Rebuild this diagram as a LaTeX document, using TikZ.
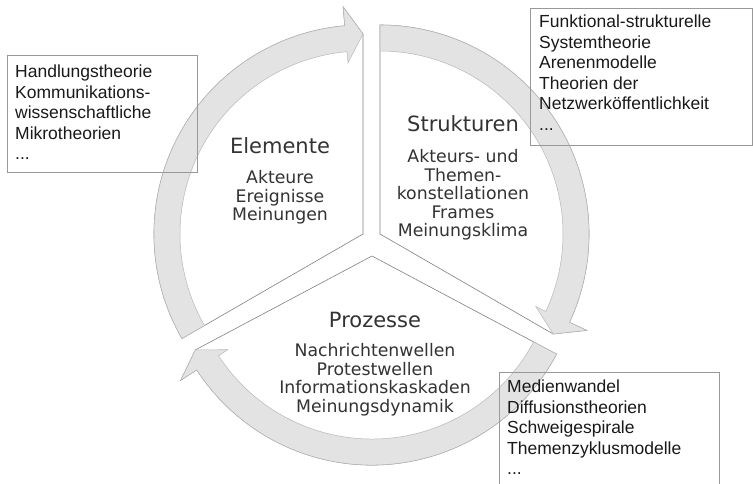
\documentclass[tikz,border=0pt]{standalone}
\usepackage{fontspec}
\usepackage{tikz}
\usetikzlibrary{positioning}
\newfontfamily\boxfont{Liberation Sans}
\newfontfamily\segfont{DejaVu Sans}
\tikzstyle{theorybox} = [rectangle, draw=black!40, line width=0.8pt, inner sep=0pt]
\tikzstyle{theorytext} = [align=left, inner sep=0pt, text=black!90, font=\boxfont\fontsize{17.5}{20.5}\selectfont]
\tikzstyle{segtitle} = [inner sep=0pt, text=black!80, font=\segfont\fontsize{21}{24}\selectfont]
\tikzstyle{segtext} = [align=center, inner sep=0pt, text=black!80, font=\segfont\fontsize{17.3}{18.4}\selectfont]
\tikzstyle{slice} = [fill=white, draw=black!50, line width=0.6pt]
\tikzstyle{band} = [fill=black!11, draw=black!28, line width=0.5pt]

\begin{document}
\begin{tikzpicture}[x=1pt, y=1pt]
		\useasboundingbox (0,0) rectangle (753,-483);
		\clip (0,0) rectangle (753,-483);
		
		%Elemente
		\begin{scope}[shift={(363,-234)}]
			\draw [slice] (0,0) -- (210:209) arc[start angle=210, end angle=95, radius=209] -- (95:228) -- (90:200) -- cycle;
			\draw [band] (210:209) arc[start angle=210, end angle=95, radius=209] -- (95:228) -- (90:200) -- (95:172) -- (95:183) arc[start angle=95, end angle=210, radius=183] -- cycle;
		\end{scope}
		%Strukturen
		\begin{scope}[shift={(380,-234)}]
			\draw [slice] (0,0) -- (90:209) arc[start angle=90, end angle=-25, radius=209] -- (-25:228) -- (-30:200) -- cycle;
			\draw [band] (90:209) arc[start angle=90, end angle=-25, radius=209] -- (-25:228) -- (-30:200) -- (-25:172) -- (-25:183) arc[start angle=-25, end angle=90, radius=183] -- cycle;
		\end{scope}
		%Prozesse
		\begin{scope}[shift={(372,-256)}]
			\draw [slice] (0,0) -- (-28:209) arc[start angle=-28, end angle=-147, radius=209] -- (-147:228) -- (-152:200) -- cycle;
			\draw [band] (-28:209) arc[start angle=-28, end angle=-147, radius=209] -- (-147:228) -- (-152:200) -- (-147:172) -- (-147:183) arc[start angle=-147, end angle=-28, radius=183] -- cycle;
		\end{scope}
		
		\node (elem) [segtitle, anchor=base] at (280,-153) {Elemente};
		\node (elemtxt) [segtext, below=17pt of elem] {Akteure\\Ereignisse\\Meinungen};
		\node (struk) [segtitle, anchor=base] at (463,-131) {Strukturen};
		\node (struktxt) [segtext, below=18pt of struk] {Akteurs- und\\Themen-\\konstellationen\\Frames\\Meinungsklima};
		\node (proz) [segtitle, anchor=base] at (375,-327) {Prozesse};
		\node (proztxt) [segtext, below=16pt of proz] {Nachrichtenwellen\\Protestwellen\\Informationskaskaden\\Meinungsdynamik};
		
		%Theorien
		\node (theo1) [theorybox, minimum width=190, minimum height=117, anchor=north west] at (7,-55) {};
		\node (theo1txt) [theorytext, below right=10pt and 8pt of theo1.north west] {Handlungstheorie\\Kommunikations-\\wissenschaftliche\\Mikrotheorien\\...};
		\node (theo2) [theorybox, minimum width=222, minimum height=137, anchor=north west] at (530,-8) {};
		\node (theo2txt) [theorytext, below right=7pt and 9pt of theo2.north west] {Funktional-strukturelle\\Systemtheorie\\Arenenmodelle\\Theorien der\\Netzwerköffentlichkeit\\...};
		\node (theo3) [theorybox, minimum width=220, minimum height=130, anchor=north west] at (499,-372) {};
		\node (theo3txt) [theorytext, below right=8pt and 8pt of theo3.north west] {Medienwandel\\Diffusionstheorien\\Schweigespirale\\Themenzyklusmodelle\\...};
		
	\end{tikzpicture}
\end{document}
